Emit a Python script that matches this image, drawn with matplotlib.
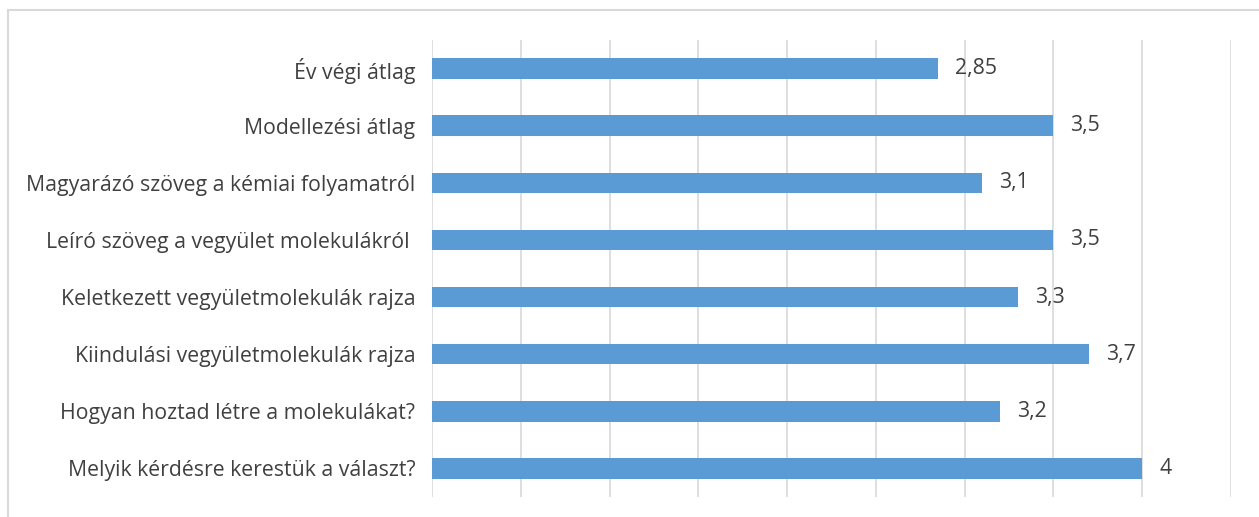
import matplotlib.pyplot as plt
from matplotlib.patches import Rectangle
from matplotlib.ticker import MultipleLocator

categories = [
    "Év végi átlag",
    "Modellezési átlag",
    "Magyarázó szöveg a kémiai folyamatról",
    "Leíró szöveg a vegyület molekulákról ",
    "Keletkezett vegyületmolekulák rajza",
    "Kiindulási vegyületmolekulák rajza",
    "Hogyan hoztad létre a molekulákat?",
    "Melyik kérdésre kerestük a választ?",
]
values = [2.85, 3.5, 3.1, 3.5, 3.3, 3.7, 3.2, 4.0]

plt.rcParams['font.family'] = ['Open Sans', 'DejaVu Sans']
text_color = '#404040'
bar_color = '#5B9BD5'
grid_color = '#D9D9D9'

W, H = 1259, 517
fig = plt.figure(figsize=(W / 100, H / 100), dpi=100)
ax = fig.add_axes([432 / W, 1 - 497 / H, (1231 - 432) / W, (497 - 40) / H])

# Outer chart frame
fig.patches.append(Rectangle((8 / W, -0.1), 1.2, 1 - 10 / H + 0.1,
                             transform=fig.transFigure, fill=False,
                             edgecolor='#D9D9D9', linewidth=1.5))

ypos = list(range(len(categories)))
ax.barh(ypos, values, height=0.36, color=bar_color, zorder=3)

for y, v in zip(ypos, values):
    label = f"{v:g}".replace('.', ',')
    ax.text(v + 0.095, y, label, va='center', ha='left',
            fontsize=15.3, color=text_color)

ax.set_xlim(0, 4.5)
ax.set_ylim(len(categories) - 0.5, -0.5)
ax.set_yticks(ypos)
ax.set_yticklabels(categories, fontsize=15.3, color=text_color)
ax.tick_params(axis='y', length=0, pad=12)
ax.tick_params(axis='x', length=0, labelbottom=False)
ax.xaxis.set_major_locator(MultipleLocator(0.5))
ax.grid(axis='x', color=grid_color, linewidth=1.2, zorder=0)
for s in ax.spines.values():
    s.set_visible(False)

fig.savefig('out.png', dpi=100)
